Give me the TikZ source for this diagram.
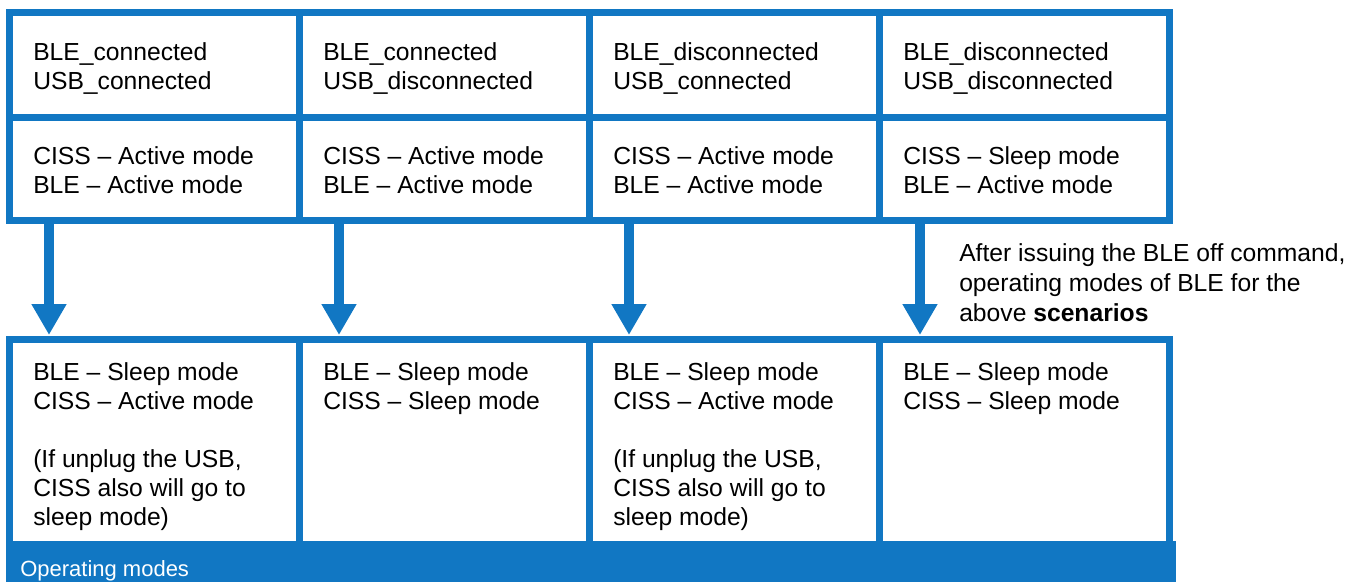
\documentclass[tikz,border=0pt]{standalone}
\usepackage{fontspec}
\setmainfont{Liberation Sans}
\usetikzlibrary{arrows.meta}
\definecolor{bblue}{RGB}{17,119,195}
\begin{document}
\begin{tikzpicture}[x=0.75pt,y=-0.75pt,
  cell/.style={draw=bblue, line width=5.25pt, minimum width=217.5pt, anchor=north west, inner sep=0pt, outer sep=0pt},
  rowa/.style={cell, minimum height=78.375pt},
  rowb/.style={cell, minimum height=77.25pt},
  rowc/.style={cell, minimum height=155.25pt},
  txt/.style={anchor=base west, align=left, inner sep=0pt, font=\fontsize{18.5}{21.75}\selectfont},
  arr/.style={draw=bblue, line width=7.5pt, -{Triangle[width=24.75pt,length=23.25pt]}},
  bar/.style={fill=bblue, anchor=north west, inner sep=0pt, outer sep=0pt, minimum width=877.5pt, minimum height=30.75pt},
]
\useasboundingbox (0,0) rectangle (1365,582);
% top row cells
\node[rowa] (a1) at (9.5,12.5) {};
\node[rowa] (a2) at (299.5,12.5) {};
\node[rowa] (a3) at (589.5,12.5) {};
\node[rowa] (a4) at (879.5,12.5) {};
\node[rowb] (b1) at (9.5,117) {};
\node[rowb] (b2) at (299.5,117) {};
\node[rowb] (b3) at (589.5,117) {};
\node[rowb] (b4) at (879.5,117) {};
% bottom row cells
\node[rowc] (c1) at (9.5,339) {};
\node[rowc] (c2) at (299.5,339) {};
\node[rowc] (c3) at (589.5,339) {};
\node[rowc] (c4) at (879.5,339) {};
% texts (anchor = baseline of the last line)
\node[txt] (ta1) at (33,89) {BLE\_connected\\USB\_connected};
\node[txt] (ta2) at (323,89) {BLE\_connected\\USB\_disconnected};
\node[txt] (ta3) at (613,89) {BLE\_disconnected\\USB\_connected};
\node[txt] (ta4) at (903,89) {BLE\_disconnected\\USB\_disconnected};
\node[txt] (tb1) at (33,193) {CISS – Active mode\\BLE – Active mode};
\node[txt] (tb2) at (323,193) {CISS – Active mode\\BLE – Active mode};
\node[txt] (tb3) at (613,193) {CISS – Active mode\\BLE – Active mode};
\node[txt] (tb4) at (903,193) {CISS – Sleep mode\\BLE – Active mode};
\node[txt] (tc1) at (33,525) {BLE – Sleep mode\\CISS – Active mode\\[21.75pt](If unplug the USB,\\CISS also will go to\\sleep mode)};
\node[txt] (tc2) at (323,409) {BLE – Sleep mode\\CISS – Sleep mode};
\node[txt] (tc3) at (613,525) {BLE – Sleep mode\\CISS – Active mode\\[21.75pt](If unplug the USB,\\CISS also will go to\\sleep mode)};
\node[txt] (tc4) at (903,409) {BLE – Sleep mode\\CISS – Sleep mode};
% side note
\node[txt, font=\fontsize{18.5}{22.5}\selectfont] (note) at (959,321) {After issuing the BLE off command,\\operating modes of BLE for the\\above \textbf{scenarios}};
% arrows
\draw[arr] ([xshift=29.625pt]b1.south west) -- ([xshift=29.625pt,yshift=3pt]c1.north west);
\draw[arr] ([xshift=29.625pt]b2.south west) -- ([xshift=29.625pt,yshift=3pt]c2.north west);
\draw[arr] ([xshift=29.625pt]b3.south west) -- ([xshift=29.625pt,yshift=3pt]c3.north west);
\draw[arr] ([xshift=30.375pt]b4.south west) -- ([xshift=30.375pt,yshift=3pt]c4.north west);
% bar
\node[bar] (barn) at (6,541) {};
\node[anchor=base west, inner sep=0pt, text=white, font=\fontsize{16.5}{19}\selectfont] (bart) at (20,576) {Operating modes};
\end{tikzpicture}
\end{document}
